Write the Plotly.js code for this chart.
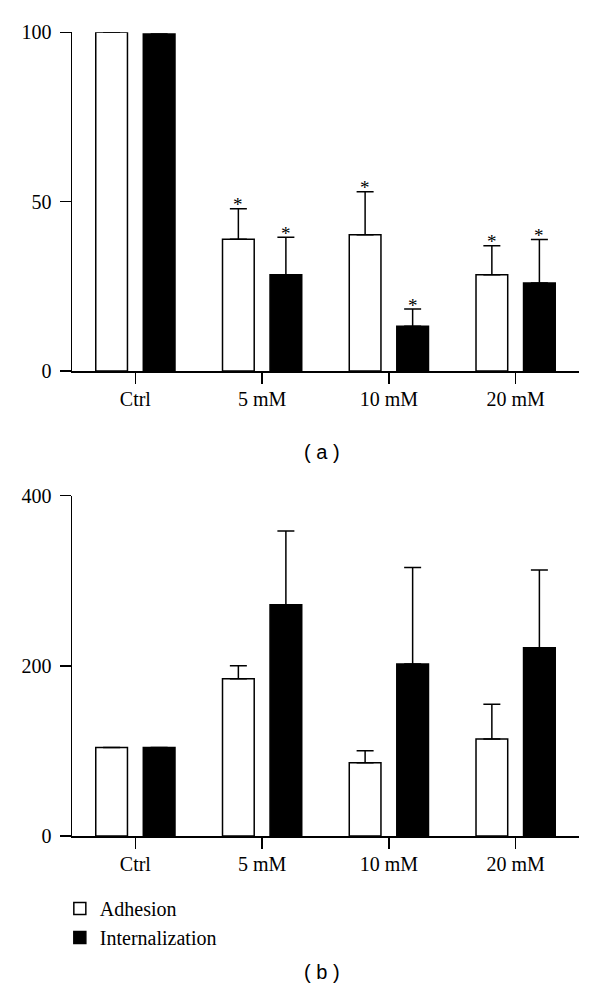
<!DOCTYPE html>
<html>
<head>
<meta charset="utf-8">
<script src="https://cdn.plot.ly/plotly-3.0.1.min.js"></script>
<style>html,body{margin:0;padding:0;background:#fff;}#chart{width:600px;height:999px;}</style>
</head>
<body>
<div id="chart"></div>
<script>
const categories = ["Ctrl", "5 mM", "10 mM", "20 mM"];
const seriesNames = ["Adhesion", "Internalization"];

// Panel (a)
const aAdhesion = [100, 38.9, 40.2, 28.4];
const aAdhesionErr = [0, 9.0, 12.7, 8.6];
const aInternal = [99.5, 28.4, 13.2, 26.0];
const aInternalErr = [0, 11.1, 5.1, 12.8];
const aAdhesionSig = [false, true, true, true];
const aInternalSig = [false, true, true, true];
const aTicks = [0, 50, 100];

// Panel (b)
const bAdhesion = [104, 184.8, 86.1, 114.0];
const bAdhesionErr = [0, 15.3, 14.1, 40.8];
const bInternal = [104, 271.8, 202.1, 221.3];
const bInternalErr = [0, 86.6, 113.6, 91.3];
const bTicks = [0, 200, 400];

const serif = "Liberation Serif, Times New Roman, serif";
const sans = "Liberation Sans, Arial, sans-serif";
const BARGAP = 0.25;
const BARGROUPGAP = 0.333;
const FS = 20;

function barTrace(name, y, err, fill, xa, ya, showlegend) {
  return {
    type: "bar", name: name, x: categories, y: y,
    xaxis: xa, yaxis: ya, showlegend: showlegend, legendgroup: name,
    marker: {color: fill, line: {color: "#000", width: 1.5}},
    error_y: {type: "data", array: err, arrayminus: err.map(() => 0), symmetric: false,
              color: "#000", thickness: 1.5, width: 8.5, visible: true},
    cliponaxis: false, hoverinfo: "skip"
  };
}

const data = [
  barTrace(seriesNames[0], aAdhesion, aAdhesionErr, "#fff", "x", "y", false),
  barTrace(seriesNames[1], aInternal, aInternalErr, "#000", "x", "y", false),
  barTrace(seriesNames[0], bAdhesion, bAdhesionErr, "#fff", "x2", "y2", true),
  barTrace(seriesNames[1], bInternal, bInternalErr, "#000", "x2", "y2", true)
];

const offset = (1 - BARGAP) / 4;
const annotations = [];
function addStars(vals, errs, sig, sign) {
  vals.forEach((v, i) => {
    if (sig[i]) {
      annotations.push({
        x: i + sign * offset, y: v + errs[i], xref: "x", yref: "y",
        text: "*", showarrow: false, yanchor: "middle", yshift: 4,
        font: {family: serif, size: 19, color: "#000"}
      });
    }
  });
}
addStars(aAdhesion, aAdhesionErr, aAdhesionSig, -1);
addStars(aInternal, aInternalErr, aInternalSig, 1);

annotations.push({x: (322 - 72) / 507, y: 1 - 451.7 / 999, xref: "paper", yref: "paper", text: "( a )",
  showarrow: false, font: {family: sans, size: 20, color: "#000"}});
annotations.push({x: (322 - 72) / 507, y: 1 - 985 / 999, xref: "paper", yref: "paper", text: "( b )",
  showarrow: false, font: {family: sans, size: 20, color: "#000"}});

function xAxis(anchor) {
  return {
    anchor: anchor, type: "category", range: [-0.5, 3.5],
    showline: true, linecolor: "#000", linewidth: 1.5,
    ticks: "outside", ticklen: 11, tickwidth: 1.5, tickcolor: "#000",
    showgrid: false, zeroline: false, ticklabelstandoff: -2,
    tickfont: {family: serif, size: FS, color: "#000"}, fixedrange: true
  };
}
function yAxis(anchor, domain, range, ticks) {
  return {
    anchor: anchor, domain: domain, range: range, tickvals: ticks,
    showline: true, linecolor: "#000", linewidth: 1.5,
    ticks: "outside", ticklen: 11, tickwidth: 1.5, tickcolor: "#000",
    showgrid: false, zeroline: false, ticklabelstandoff: 4,
    tickfont: {family: serif, size: FS, color: "#000"}, fixedrange: true
  };
}

const layout = {
  width: 600, height: 999,
  margin: {l: 72, r: 21, t: 0, b: 0},
  paper_bgcolor: "#fff", plot_bgcolor: "#fff",
  barmode: "group", bargap: BARGAP, bargroupgap: BARGROUPGAP,
  showlegend: true,
  legend: {x: -0.024, xanchor: "left", y: 1 - 889 / 999, yanchor: "top",
    font: {family: serif, size: FS, color: "#000"},
    bgcolor: "rgba(0,0,0,0)", traceorder: "grouped", tracegroupgap: 0},
  xaxis: xAxis("y"),
  yaxis: yAxis("x", [1 - 371 / 999, 1 - 32.3 / 999], [0, 100], aTicks),
  xaxis2: xAxis("y2"),
  yaxis2: yAxis("x2", [1 - 836 / 999, 1 - 495.7 / 999], [0, 400], bTicks),
  annotations: annotations
};

Plotly.newPlot("chart", data, layout, {staticPlot: true, displayModeBar: false});
</script>
</body>
</html>
